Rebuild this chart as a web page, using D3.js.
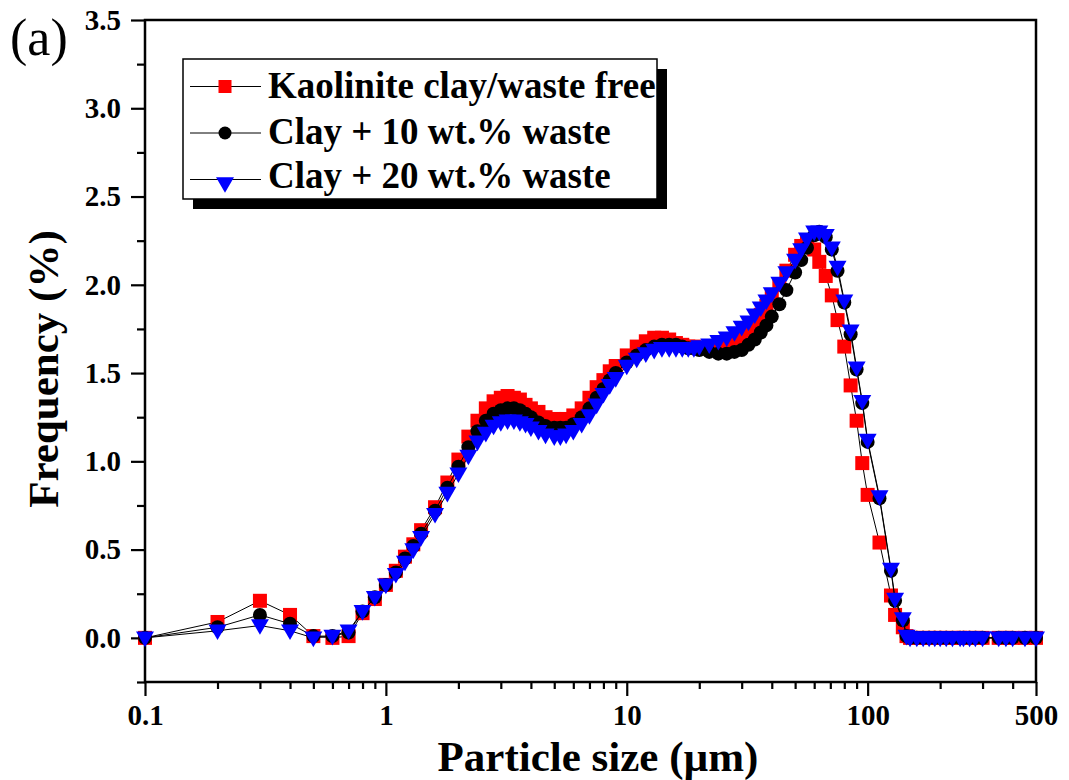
<!DOCTYPE html>
<html>
<head>
<meta charset="utf-8">
<script src="https://cdn.jsdelivr.net/npm/d3@7"></script>
<style>
  html, body { margin: 0; padding: 0; background: #fff; }
  svg { display: block; }
  text { font-family: "Liberation Serif", "Times New Roman", serif; }
</style>
</head>
<body>
<svg id="chart" width="1069" height="780"></svg>
<script>
// Particle size classes (µm)
const sizes = [
  0.1, 0.2, 0.3, 0.4, 0.5, 0.6, 0.7, 0.8, 0.9, 1.0,
  1.1, 1.2, 1.3, 1.4,
  1.6, 1.8, 2.0, 2.2, 2.4, 2.6, 2.8, 3.0, 3.2, 3.4, 3.6, 3.8, 4.0,
  4.3, 4.6, 5.0, 5.3, 5.6, 6.0, 6.5, 7.0, 7.5, 8.0, 8.5, 9.0,
  10, 11, 12, 13, 14, 15, 16, 17, 18, 19, 20,
  22, 24, 26, 28, 30, 32, 34, 36, 38, 40,
  43, 46, 50, 53, 56, 60, 63, 67, 71, 75,
  80, 85, 90, 95, 100,
  112, 125, 130, 140, 145,
  150, 160, 170, 180, 190, 200, 212, 225, 242, 250, 265, 280, 300,
  350, 375, 400, 450, 500
];

// Frequency (%) — kaolinite clay, waste free
const kaolinite = [
  0.00, 0.09, 0.21, 0.13, 0.01, 0.00, 0.01, 0.14, 0.22, 0.30,
  0.38, 0.46, 0.53, 0.61,
  0.74, 0.88, 1.01, 1.14, 1.23, 1.30, 1.34, 1.36, 1.37, 1.36, 1.35, 1.32, 1.30,
  1.28, 1.25, 1.24, 1.235, 1.24, 1.26, 1.30, 1.36, 1.42, 1.46, 1.51, 1.54,
  1.60, 1.65, 1.68, 1.70, 1.70, 1.69, 1.67, 1.66, 1.65, 1.65, 1.64,
  1.64, 1.65, 1.66, 1.68, 1.71, 1.74, 1.78, 1.83, 1.88, 1.93,
  2.00, 2.08, 2.17, 2.22, 2.25, 2.20, 2.13, 2.05, 1.94, 1.80,
  1.65, 1.43, 1.23, 0.99, 0.81,
  0.54, 0.24, 0.13, 0.06, 0.01,
  0.00, 0.00, 0.00, 0.00, 0.00, 0.00, 0.00, 0.00, 0.00, 0.00, 0.00, 0.00, 0.00,
  0.00, 0.00, 0.00, 0.00, 0.00
];

// Frequency (%) — clay + 10 wt.% waste
const waste10 = [
  0.00, 0.06, 0.13, 0.08, 0.01, 0.01, 0.03, 0.15, 0.23, 0.30,
  0.37, 0.45, 0.52, 0.59,
  0.72, 0.85, 0.97, 1.08, 1.17, 1.23, 1.27, 1.29, 1.30, 1.30, 1.29, 1.27, 1.25,
  1.22, 1.20, 1.19, 1.19, 1.19, 1.21, 1.25, 1.30, 1.36, 1.41, 1.46, 1.50,
  1.56, 1.60, 1.63, 1.65, 1.66, 1.66, 1.66, 1.65, 1.64, 1.64, 1.63,
  1.62, 1.61, 1.61, 1.62, 1.63, 1.66, 1.69, 1.73, 1.77, 1.82,
  1.89, 1.97, 2.07, 2.14, 2.21, 2.28, 2.30, 2.27, 2.20, 2.08,
  1.90, 1.72, 1.52, 1.33, 1.11,
  0.79, 0.38, 0.21, 0.10, 0.01,
  0.00, 0.00, 0.00, 0.00, 0.00, 0.00, 0.00, 0.00, 0.00, 0.00, 0.00, 0.00, 0.00,
  0.00, 0.00, 0.00, 0.00, 0.00
];

// Frequency (%) — clay + 20 wt.% waste
const waste20 = [
  0.00, 0.04, 0.07, 0.04, 0.00, 0.01, 0.04, 0.15, 0.23, 0.30,
  0.36, 0.43, 0.50, 0.57,
  0.70, 0.82, 0.93, 1.03, 1.11, 1.16, 1.20, 1.22, 1.23, 1.23, 1.22, 1.21, 1.19,
  1.17, 1.15, 1.14, 1.14, 1.15, 1.17, 1.21, 1.26, 1.32, 1.38, 1.43, 1.47,
  1.54, 1.58, 1.61, 1.63, 1.64, 1.64, 1.64, 1.64, 1.64, 1.64, 1.65,
  1.66, 1.68, 1.70, 1.73, 1.76, 1.79, 1.83, 1.87, 1.91, 1.95,
  2.01, 2.07, 2.14, 2.20, 2.26, 2.30, 2.30, 2.28, 2.21, 2.10,
  1.91, 1.74, 1.53, 1.34, 1.12,
  0.80, 0.39, 0.22, 0.11, 0.01,
  0.00, 0.00, 0.00, 0.00, 0.00, 0.00, 0.00, 0.00, 0.00, 0.00, 0.00, 0.00, 0.00,
  0.00, 0.00, 0.00, 0.00, 0.00
];

const seriesNames = ["Kaolinite clay/waste free", "Clay + 10 wt.% waste", "Clay + 20 wt.% waste"];
const seriesColors = ["#ff0000", "#000000", "#0000ff"];
const seriesShapes = ["square", "circle", "triangleDown"];

// Axis ticks
const xMajorTicks = [0.1, 1, 10, 100, 500];
const xMajorLabels = ["0.1", "1", "10", "100", "500"];
const xMinorTicks = [0.2, 0.3, 0.4, 0.5, 0.6, 0.7, 0.8, 0.9,
                     2, 3, 4, 5, 6, 7, 8, 9,
                     20, 30, 40, 50, 60, 70, 80, 90,
                     200, 300, 400];
const yMajorTicks = [0.0, 0.5, 1.0, 1.5, 2.0, 2.5, 3.0, 3.5];
const yMinorTicks = [-0.25, 0.25, 0.75, 1.25, 1.75, 2.25, 2.75, 3.25];

const svg = d3.select("#chart");
const plot = { left: 145, right: 1036, top: 20, bottom: 682 };

const x = d3.scaleLog().domain([0.1, 500]).range([plot.left, plot.right]);
const y = d3.scaleLinear().domain([-0.25, 3.5]).range([plot.bottom, plot.top]);

const font = '"Liberation Serif", "Times New Roman", serif';

// Axes: major + minor ticks, outward
function styleAxis(g) {
  g.select(".domain").remove();
  g.selectAll(".tick line").attr("stroke", "#000").attr("stroke-width", 2.2);
  g.selectAll(".tick text")
    .attr("font-family", font)
    .attr("font-weight", "bold")
    .attr("font-size", 29)
    .attr("fill", "#000");
}

svg.append("g")
  .attr("transform", `translate(0,${plot.bottom})`)
  .call(d3.axisBottom(x).tickValues(xMajorTicks).tickSize(14).tickPadding(8)
        .tickFormat((d, i) => xMajorLabels[i]))
  .call(styleAxis);

svg.append("g")
  .attr("transform", `translate(0,${plot.bottom})`)
  .call(d3.axisBottom(x).tickValues(xMinorTicks).tickSize(7).tickFormat(""))
  .call(styleAxis);

svg.append("g")
  .attr("transform", `translate(${plot.left},0)`)
  .call(d3.axisLeft(y).tickValues(yMajorTicks).tickSize(14).tickPadding(10)
        .tickFormat(d3.format(".1f")))
  .call(styleAxis);

svg.append("g")
  .attr("transform", `translate(${plot.left},0)`)
  .call(d3.axisLeft(y).tickValues(yMinorTicks).tickSize(8).tickFormat(""))
  .call(styleAxis);

// Frame
svg.append("rect")
  .attr("x", plot.left).attr("y", plot.top)
  .attr("width", plot.right - plot.left).attr("height", plot.bottom - plot.top)
  .attr("fill", "none").attr("stroke", "#000").attr("stroke-width", 2.5);

// Marker drawing
function marker(sel, shape, color, size) {
  if (shape === "square") {
    const s = size;
    sel.append("rect").attr("x", -s / 2).attr("y", -s / 2)
      .attr("width", s).attr("height", s).attr("fill", color);
  } else if (shape === "circle") {
    sel.append("circle").attr("r", size / 2).attr("fill", color);
  } else {
    const hw = size * 0.6;
    sel.append("path")
      .attr("d", `M${-hw},${-size * 0.42}L${hw},${-size * 0.42}L0,${size * 0.62}Z`)
      .attr("fill", color);
  }
}

const seriesValues = [kaolinite, waste10, waste20];
const line = d3.line().x(d => x(d[0])).y(d => y(d[1]));

seriesValues.forEach((vals, si) => {
  const pts = sizes.map((s, i) => [s, vals[i]]);
  const g = svg.append("g");
  g.append("path").datum(pts).attr("d", line)
    .attr("fill", "none").attr("stroke", "#000").attr("stroke-width", 1);
  g.selectAll("g.pt").data(pts).enter().append("g")
    .attr("class", "pt")
    .attr("transform", d => `translate(${x(d[0])},${y(d[1])})`)
    .each(function () {
      marker(d3.select(this), seriesShapes[si], seriesColors[si], si === 2 ? 15 : 14);
    });
});

// Legend with drop shadow
const lg = { x: 183, y: 59, w: 474, h: 140 };
svg.append("rect").attr("x", lg.x + 10).attr("y", lg.y + 10)
  .attr("width", lg.w).attr("height", lg.h).attr("fill", "#000");
svg.append("rect").attr("x", lg.x).attr("y", lg.y)
  .attr("width", lg.w).attr("height", lg.h)
  .attr("fill", "#fff").attr("stroke", "#000").attr("stroke-width", 1.5);

const rowY = [86.5, 133, 179.5];
const rowBase = [98, 144, 188];
seriesNames.forEach((name, i) => {
  svg.append("line").attr("x1", 190).attr("x2", 261)
    .attr("y1", rowY[i]).attr("y2", rowY[i])
    .attr("stroke", "#000").attr("stroke-width", 1);
  const m = svg.append("g").attr("transform", `translate(225,${rowY[i] + (i === 2 ? 4 : 0)})`);
  marker(m, seriesShapes[i], seriesColors[i], i === 2 ? 15 : 13);
  svg.append("text").attr("x", 268).attr("y", rowBase[i])
    .attr("font-family", font).attr("font-weight", "bold").attr("font-size", 37)
    .attr("fill", "#000").text(name);
});

// Axis titles
svg.append("text")
  .attr("x", 598).attr("y", 771)
  .attr("text-anchor", "middle")
  .attr("font-family", font).attr("font-weight", "bold").attr("font-size", 43)
  .text("Particle size (µm)");

svg.append("text")
  .attr("transform", `translate(58,${(plot.top + plot.bottom) / 2 + 18}) rotate(-90)`)
  .attr("text-anchor", "middle")
  .attr("font-family", font).attr("font-weight", "bold").attr("font-size", 43)
  .text("Frequency (%)");

// Panel label
svg.append("text").attr("x", 10).attr("y", 55)
  .attr("font-family", font).attr("font-size", 52)
  .text("(a)");
</script>
</body>
</html>
